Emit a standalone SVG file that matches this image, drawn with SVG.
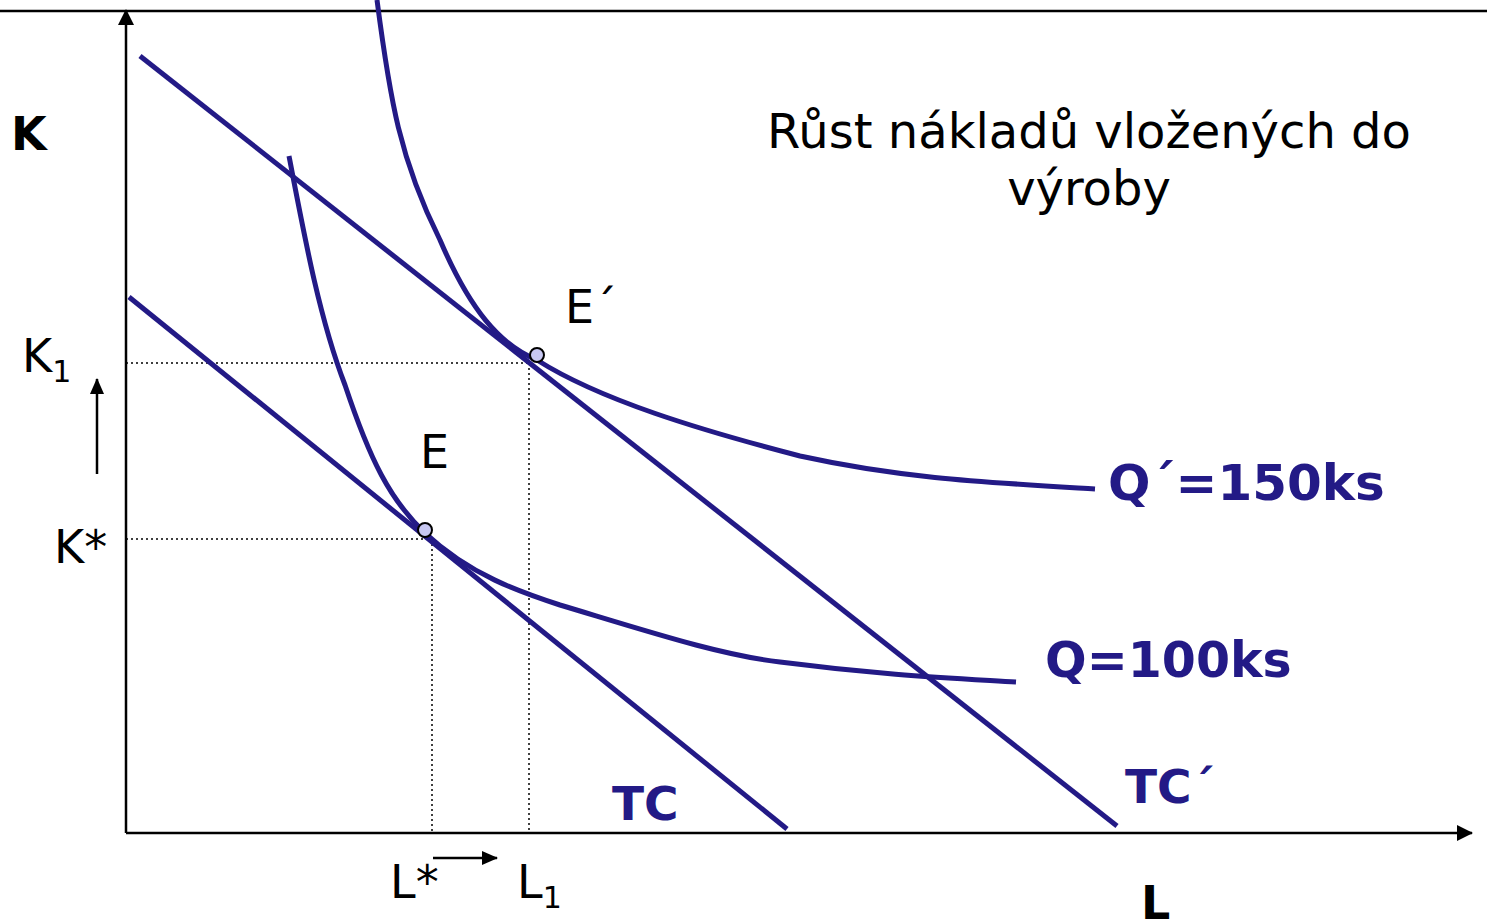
<svg xmlns="http://www.w3.org/2000/svg" width="1487" height="924" viewBox="0 0 1487 924">
<style>
.ax{stroke:#000;stroke-width:2.5;fill:none}
.dot{stroke:#000;stroke-width:1.5;stroke-dasharray:2 3;fill:none}
.cv{stroke:#231a86;stroke-width:5;fill:none}
.t{font-family:"DejaVu Sans",Verdana,sans-serif;font-size:46px;fill:#000}
.b{font-family:"DejaVu Sans",Verdana,sans-serif;font-size:46px;font-weight:bold}
.nv{fill:#231a86}
.pt{fill:#c8c8f2;stroke:#000;stroke-width:2}
</style>
<defs>
<marker id="ah" markerWidth="16" markerHeight="14" refX="15" refY="7" orient="auto" markerUnits="userSpaceOnUse" viewBox="0 0 16 14">
<path d="M0,0 L16,7 L0,14 z" fill="#000"/>
</marker>
<marker id="ahb" markerWidth="16" markerHeight="16" refX="15" refY="8" orient="auto" markerUnits="userSpaceOnUse" viewBox="0 0 16 16">
<path d="M0,0 L16,8 L0,16 z" fill="#000"/>
</marker>
</defs>
<rect width="1487" height="924" fill="#fff"/>
<g id="connectors">
<line class="ax" x1="0" y1="11" x2="1487" y2="11"/>
<line class="ax" x1="126" y1="833" x2="126" y2="10" marker-end="url(#ahb)"/>
<line class="ax" x1="126" y1="833" x2="1472" y2="833" marker-end="url(#ahb)"/>
<line class="dot" x1="126" y1="363" x2="529" y2="363"/>
<line class="dot" x1="529" y1="363" x2="529" y2="833"/>
<line class="dot" x1="126" y1="539" x2="432" y2="539"/>
<line class="dot" x1="432" y1="539" x2="432" y2="833"/>
<line x1="97" y1="474" x2="97" y2="379" stroke="#000" stroke-width="2.5" marker-end="url(#ah)"/>
<line x1="433" y1="858" x2="497" y2="858" stroke="#000" stroke-width="2.5" marker-end="url(#ah)"/>
</g>
<g id="TCprime"><line class="cv" x1="140" y1="56" x2="1117" y2="826"/></g>
<g id="TC"><line class="cv" x1="129" y1="297" x2="787" y2="829"/></g>
<g id="Qprime"><path class="cv" d="M377,0 C390,100 400,160 440,240 C470,310 500,345 537,360 C600,400 700,430 800,456 C900,478 980,482 1095,489"/></g>
<g id="Q"><path class="cv" d="M289,156 C305,240 320,320 345,385 C370,460 390,500 425,533 C470,575 520,592 560,605 C650,632 720,655 780,662 C880,675 950,678 1016,682"/></g>
<g id="Eprime"><circle class="pt" cx="537" cy="355" r="7"/><text class="t" x="565" y="323">E´</text></g>
<g id="E"><circle class="pt" cx="425" cy="530" r="7"/><text class="t" x="420" y="468">E</text></g>
<g id="labels">
<text class="b" x="11" y="150" fill="#000">K</text>
<text class="t" x="22" y="372">K<tspan style="font-size:30px" dy="10">1</tspan></text>
<text class="t" x="54" y="563">K*</text>
<text class="t" x="390" y="898">L*</text>
<text class="t" x="517" y="898">L<tspan style="font-size:30px" dy="10">1</tspan></text>
<text class="b" x="1141" y="919" fill="#000">L</text>
<text class="b nv" x="1108" y="500" style="font-size:50px">Q´=150ks</text>
<text class="b nv" x="1045" y="677" style="font-size:49px">Q=100ks</text>
<text class="b nv" x="612" y="820" style="font-size:47px">TC</text>
<text class="b nv" x="1125" y="803" style="font-size:47px">TC´</text>
<text class="t" x="1089" y="148" text-anchor="middle" style="font-size:48px">Růst nákladů vložených do</text>
<text class="t" x="1089" y="205" text-anchor="middle" style="font-size:48px">výroby</text>
</g>
</svg>
